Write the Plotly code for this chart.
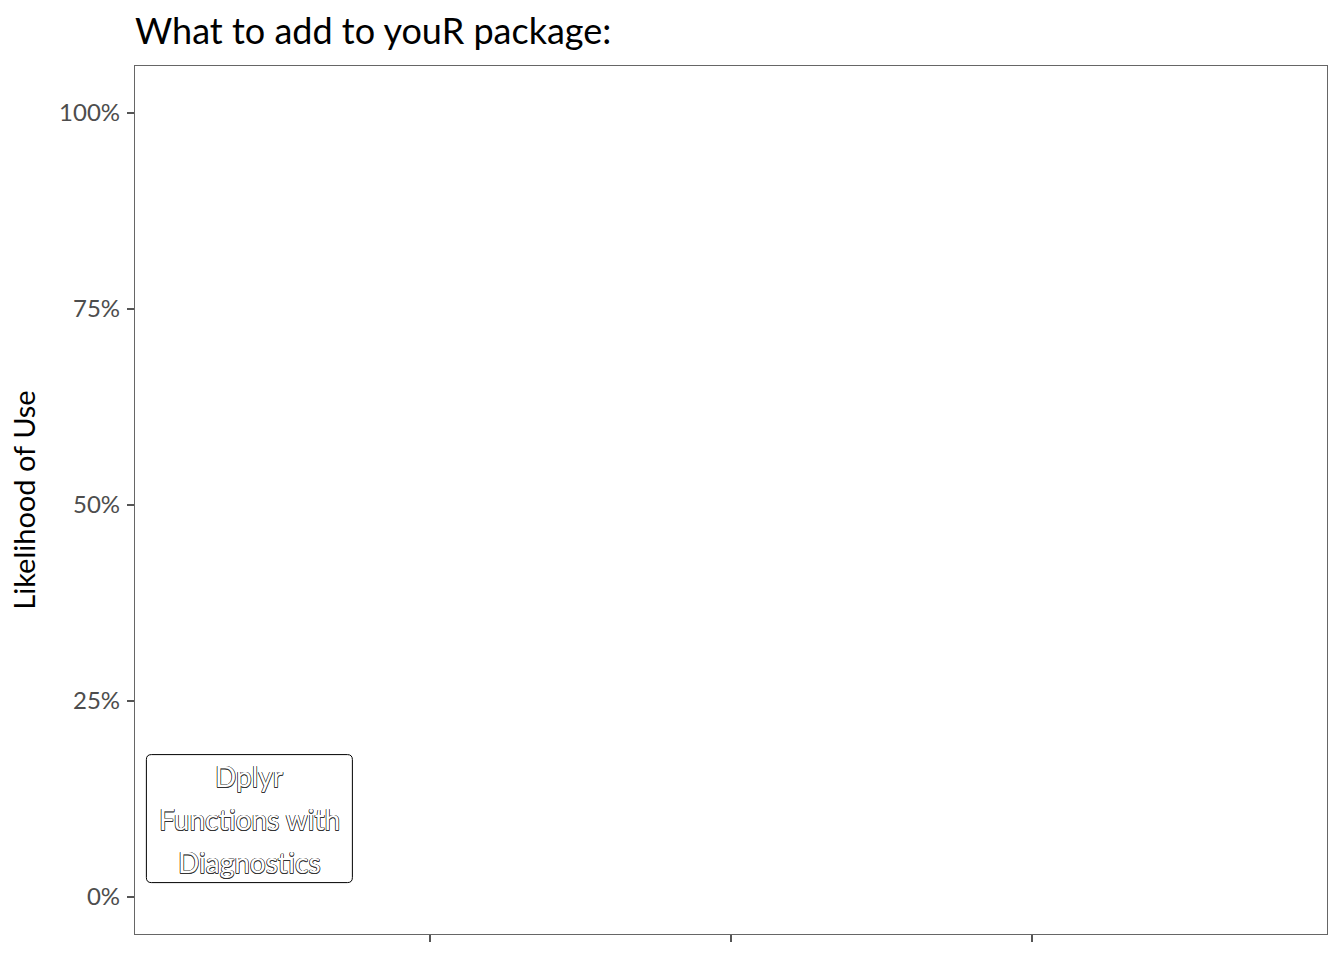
import plotly.graph_objects as go

# ---- data ----
label_text = ["Dplyr", "Functions with", "Diagnostics"]
label_x = [0.4]
label_y = [0.10]
x_ticks = [1, 2, 3]
x_tick_labels = ["", "", ""]
y_ticks = [0, 0.25, 0.5, 0.75, 1.0]
y_tick_labels = ["0%", "25%", "50%", "75%", "100%"]
title_text = "What to add to youR package:"
y_title = "Likelihood of Use"

FONT = "Lato"
d = 0.5
outline = ", ".join(f"{a}px {b}px 0 #333" for a, b in
                    [(-d, -d), (d, -d), (-d, d), (d, d), (0, d), (0, -d), (d, 0), (-d, 0)])

fig = go.Figure()
fig.add_trace(go.Scatter(x=label_x, y=label_y, mode="markers",
                         marker=dict(opacity=0), hoverinfo="skip",
                         showlegend=False))

line_gap = 43
for i, t in enumerate(label_text):
    fig.add_annotation(x=label_x[0], y=label_y[0], xref="x", yref="y",
                       text=t, showarrow=False,
                       yshift=line_gap * (1 - i),
                       font=dict(family=FONT, size=28, color="white",
                                 shadow=outline))

# rounded label box
w, h, r = 103, 64, 5
path = (f"M {-w + r},{-h} L {w - r},{-h} Q {w},{-h} {w},{-h + r} "
        f"L {w},{h - r} Q {w},{h} {w - r},{h} L {-w + r},{h} "
        f"Q {-w},{h} {-w},{h - r} L {-w},{-h + r} Q {-w},{-h} {-w + r},{-h} Z")
fig.add_shape(type="path", xref="x", yref="y", xsizemode="pixel",
              ysizemode="pixel", xanchor=label_x[0], yanchor=label_y[0],
              path=path, line=dict(color="black", width=1))

fig.update_layout(
    width=1344, height=960,
    margin=dict(l=135, r=17, t=66, b=26),
    paper_bgcolor="white", plot_bgcolor="white",
    title=dict(text=title_text, x=135 / 1344, xanchor="left",
               y=1 - 31 / 960, yanchor="middle",
               font=dict(family=FONT, size=36, color="black")),
    showlegend=False,
)
fig.update_xaxes(range=[0.02, 3.98], tickvals=x_ticks, ticktext=x_tick_labels,
                 showgrid=False, zeroline=False, showline=True, mirror=True,
                 linecolor="#666666", linewidth=1.2,
                 ticks="outside", ticklen=7, tickcolor="#555555", tickwidth=2)
fig.update_yaxes(range=[-0.0472, 1.06], tickvals=y_ticks, ticktext=y_tick_labels,
                 showgrid=False, zeroline=False, showline=True, mirror=True,
                 linecolor="#666666", linewidth=1.2,
                 ticks="outside", ticklen=7, tickcolor="#555555", tickwidth=2,
                 ticklabelstandoff=2,
                 tickfont=dict(family=FONT, size=24, color="#4d4d4d"),
                 title=dict(text=y_title, standoff=14,
                            font=dict(family=FONT, size=29, color="black")))

fig.write_html("out.html")
